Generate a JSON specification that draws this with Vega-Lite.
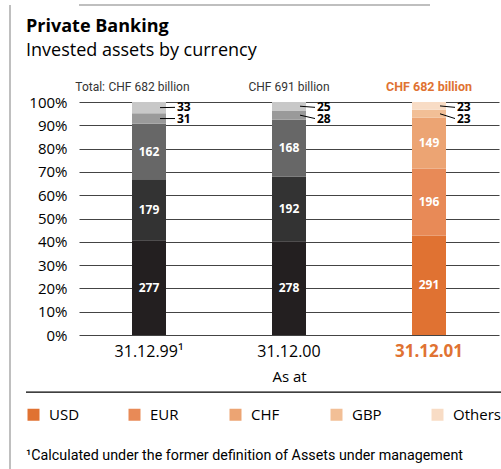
{
  "$schema": "https://vega.github.io/schema/vega-lite/v6.json",
  "width": 420,
  "height": 233,
  "autosize": {"type": "none"},
  "padding": {"left": 79, "top": 102, "right": 2, "bottom": 134},
  "background": "white",
  "title": {
    "text": "Private Banking",
    "subtitle": "Invested assets by currency",
    "anchor": "start",
    "frame": "group",
    "dx": -53,
    "offset": -56,
    "font": "Open Sans",
    "fontSize": 18,
    "fontWeight": "bold",
    "color": "#000000",
    "subtitleFont": "Open Sans",
    "subtitleFontSize": 18,
    "subtitleColor": "#000000",
    "subtitlePadding": 6
  },
  "data": {
    "values": [
      {"year": "31.12.99", "currency": "USD", "value": 277, "idx": 1},
      {"year": "31.12.99", "currency": "EUR", "value": 179, "idx": 2},
      {"year": "31.12.99", "currency": "CHF", "value": 162, "idx": 3},
      {"year": "31.12.99", "currency": "GBP", "value": 31, "idx": 4},
      {"year": "31.12.99", "currency": "Others", "value": 33, "idx": 5},
      {"year": "31.12.00", "currency": "USD", "value": 278, "idx": 1},
      {"year": "31.12.00", "currency": "EUR", "value": 192, "idx": 2},
      {"year": "31.12.00", "currency": "CHF", "value": 168, "idx": 3},
      {"year": "31.12.00", "currency": "GBP", "value": 28, "idx": 4},
      {"year": "31.12.00", "currency": "Others", "value": 25, "idx": 5},
      {"year": "31.12.01", "currency": "USD", "value": 291, "idx": 1},
      {"year": "31.12.01", "currency": "EUR", "value": 196, "idx": 2},
      {"year": "31.12.01", "currency": "CHF", "value": 149, "idx": 3},
      {"year": "31.12.01", "currency": "GBP", "value": 23, "idx": 4},
      {"year": "31.12.01", "currency": "Others", "value": 23, "idx": 5}
    ]
  },
  "transform": [
    {"joinaggregate": [{"op": "sum", "field": "value", "as": "total"}], "groupby": ["year"]},
    {"stack": "value", "groupby": ["year"], "sort": [{"field": "idx", "order": "ascending"}], "offset": "normalize", "as": ["y0", "y1"]},
    {"calculate": "(datum.y0 + datum.y1) / 2", "as": "mid"},
    {"calculate": "datum.currency == 'Others' ? 0.977 : 0.929", "as": "labelY"}
  ],
  "layer": [
    {
      "transform": [{"filter": "datum.year == '31.12.01'"}],
      "mark": {"type": "bar", "width": 34},
      "encoding": {
        "x": {
          "field": "year",
          "type": "nominal",
          "sort": ["31.12.99", "31.12.00", "31.12.01"],
          "scale": {"domain": ["31.12.99", "31.12.00", "31.12.01"], "paddingInner": 0, "paddingOuter": 0},
          "axis": {
            "title": "As at",
            "titleFont": "Open Sans",
            "titleFontSize": 15,
            "titleFontWeight": "normal",
            "titleColor": "#000000",
            "titlePadding": 10,
            "labelExpr": "datum.value == '31.12.99' ? '31.12.99¹' : datum.value",
            "labelFont": "Open Sans",
            "labelFontSize": {"condition": {"test": "datum.value == '31.12.01'", "value": 17}, "value": 16},
            "labelFontWeight": {"condition": {"test": "datum.value == '31.12.01'", "value": "bold"}, "value": "normal"},
            "labelColor": {"condition": {"test": "datum.value == '31.12.01'", "value": "#e07232"}, "value": "#000000"},
            "labelAngle": 0,
            "labelPadding": 8,
            "domain": false,
            "ticks": false,
            "grid": false
          }
        },
        "y": {
          "field": "y0",
          "type": "quantitative",
          "scale": {"domain": [0, 1]},
          "axis": {"values": [0, 0.1, 0.2, 0.3, 0.4, 0.5, 0.6, 0.7, 0.8, 0.9, 1]}
        },
        "y2": {"field": "y1"},
        "color": {
          "field": "currency",
          "type": "nominal",
          "scale": {
            "domain": ["USD", "EUR", "CHF", "GBP", "Others"],
            "range": ["#e07232", "#e88a57", "#eca473", "#f2bf96", "#f8dcc5"]
          },
          "legend": {
            "orient": "none",
            "legendX": -53,
            "legendY": 305,
            "direction": "horizontal",
            "columns": 5,
            "gridAlign": "all",
            "columnPadding": 30,
            "symbolType": "square",
            "symbolSize": 144,
            "symbolStrokeWidth": 0,
            "symbolOpacity": 1,
            "labelFont": "Open Sans",
            "labelFontSize": 15,
            "labelColor": "#000000",
            "labelOffset": 8,
            "title": "¹Calculated under the former definition of Assets under management",
            "titleOrient": "bottom",
            "titleAnchor": "start",
            "titlePadding": 26,
            "titleFont": "Roboto",
            "titleFontSize": 14.3,
            "titleFontWeight": "normal",
            "titleColor": "#000000",
            "titleLimit": 600
          }
        },
        "order": {"field": "idx"}
      }
    },
    {
      "transform": [{"filter": "datum.year != '31.12.01'"}],
      "mark": {"type": "bar", "width": 34},
      "encoding": {
        "x": {"field": "year", "type": "nominal", "sort": ["31.12.99", "31.12.00", "31.12.01"]},
        "y": {"field": "y0", "type": "quantitative", "axis": {"values": [0, 0.1, 0.2, 0.3, 0.4, 0.5, 0.6, 0.7, 0.8, 0.9, 1]}},
        "y2": {"field": "y1"},
        "color": {
          "field": "currency",
          "type": "nominal",
          "scale": {
            "domain": ["USD", "EUR", "CHF", "GBP", "Others"],
            "range": ["#231f20", "#333333", "#676767", "#9a9a9a", "#c8c8c8"]
          },
          "legend": null
        }
      }
    },
    {
      "transform": [{"filter": "datum.value > 100"}],
      "mark": {"type": "text", "font": "Open Sans", "fontSize": 12, "fontWeight": "bold", "color": "#ffffff", "baseline": "middle"},
      "encoding": {
        "x": {"field": "year", "type": "nominal", "sort": ["31.12.99", "31.12.00", "31.12.01"]},
        "y": {"field": "mid", "type": "quantitative", "axis": {"values": [0, 0.1, 0.2, 0.3, 0.4, 0.5, 0.6, 0.7, 0.8, 0.9, 1]}},
        "text": {"field": "value", "type": "quantitative"}
      }
    },
    {
      "transform": [{"filter": "datum.idx >= 4"}],
      "mark": {"type": "rule", "color": "#000000", "strokeWidth": 1, "xOffset": 11, "x2Offset": 26},
      "encoding": {
        "x": {"field": "year", "type": "nominal", "sort": ["31.12.99", "31.12.00", "31.12.01"]},
        "x2": {"field": "year"},
        "y": {"field": "mid", "type": "quantitative", "axis": {"values": [0, 0.1, 0.2, 0.3, 0.4, 0.5, 0.6, 0.7, 0.8, 0.9, 1]}},
        "y2": {"field": "labelY"}
      }
    },
    {
      "transform": [{"filter": "datum.idx >= 4"}],
      "mark": {"type": "text", "font": "Open Sans", "fontSize": 12, "fontWeight": "bold", "color": "#000000", "align": "left", "baseline": "middle", "dx": 28},
      "encoding": {
        "x": {"field": "year", "type": "nominal", "sort": ["31.12.99", "31.12.00", "31.12.01"]},
        "y": {"field": "labelY", "type": "quantitative", "axis": {"values": [0, 0.1, 0.2, 0.3, 0.4, 0.5, 0.6, 0.7, 0.8, 0.9, 1]}},
        "text": {"field": "value", "type": "quantitative"}
      }
    },
    {
      "transform": [{"filter": "datum.idx == 1 && datum.year != '31.12.01'"}, {"calculate": "'CHF ' + datum.total + ' billion'", "as": "lbl"}],
      "mark": {"type": "text", "font": "Roboto", "fontSize": 12, "color": "#333333", "baseline": "bottom", "dy": -8},
      "encoding": {
        "x": {"field": "year", "type": "nominal", "sort": ["31.12.99", "31.12.00", "31.12.01"]},
        "y": {"datum": 1, "axis": {"values": [0, 0.1, 0.2, 0.3, 0.4, 0.5, 0.6, 0.7, 0.8, 0.9, 1]}},
        "text": {"field": "lbl"}
      }
    },
    {
      "transform": [{"filter": "datum.idx == 1 && datum.year == '31.12.99'"}],
      "mark": {"type": "text", "font": "Roboto", "fontSize": 12, "color": "#333333", "baseline": "bottom", "align": "right", "dy": -8, "dx": -44},
      "encoding": {
        "x": {"field": "year", "type": "nominal", "sort": ["31.12.99", "31.12.00", "31.12.01"]},
        "y": {"datum": 1, "axis": {"values": [0, 0.1, 0.2, 0.3, 0.4, 0.5, 0.6, 0.7, 0.8, 0.9, 1]}},
        "text": {"value": "Total:"}
      }
    },
    {
      "transform": [{"filter": "datum.idx == 1 && datum.year == '31.12.01'"}, {"calculate": "'CHF ' + datum.total + ' billion'", "as": "lbl"}],
      "mark": {"type": "text", "font": "Roboto", "fontSize": 12.5, "fontWeight": "bold", "color": "#e07232", "baseline": "bottom", "dy": -8},
      "encoding": {
        "x": {"field": "year", "type": "nominal", "sort": ["31.12.99", "31.12.00", "31.12.01"]},
        "y": {"datum": 1, "axis": {"values": [0, 0.1, 0.2, 0.3, 0.4, 0.5, 0.6, 0.7, 0.8, 0.9, 1]}},
        "text": {"field": "lbl"}
      }
    },
    {
      "transform": [{"filter": "datum.idx == 1 && datum.year == '31.12.99'"}],
      "mark": {"type": "rule", "color": "#aaaaaa", "strokeWidth": 1.5, "xOffset": -69, "x2Offset": 2},
      "encoding": {"y": {"datum": 1.4163, "type": "quantitative", "axis": {"values": [0, 0.1, 0.2, 0.3, 0.4, 0.5, 0.6, 0.7, 0.8, 0.9, 1]}}}
    },
    {
      "transform": [{"filter": "datum.idx == 1 && datum.year == '31.12.99'"}],
      "mark": {"type": "rule", "color": "#aaaaaa", "strokeWidth": 1.5, "xOffset": -139},
      "encoding": {
        "x": {"datum": "31.12.99"},
        "y": {"datum": 1.4163, "type": "quantitative", "axis": {"values": [0, 0.1, 0.2, 0.3, 0.4, 0.5, 0.6, 0.7, 0.8, 0.9, 1]}},
        "y2": {"datum": -0.6}
      }
    },
    {
      "transform": [{"filter": "datum.idx == 1 && datum.year == '31.12.99'"}],
      "mark": {"type": "rule", "color": "#000000", "strokeWidth": 1.2, "xOffset": -123, "x2Offset": 72},
      "encoding": {
        "x": {"datum": "31.12.99"},
        "x2": {"datum": "31.12.01"},
        "y": {"datum": -0.245, "type": "quantitative", "axis": {"values": [0, 0.1, 0.2, 0.3, 0.4, 0.5, 0.6, 0.7, 0.8, 0.9, 1]}}
      }
    }
  ],
  "resolve": {"scale": {"color": "independent"}},
  "config": {
    "view": {"stroke": null},
    "axisY": {
      "title": null,
      "format": ".0%",
      "labelOverlap": false,
      "grid": true,
      "gridColor": "#444444",
      "gridWidth": 1,
      "domain": false,
      "ticks": false,
      "labelFont": "Open Sans",
      "labelFontSize": 15,
      "labelColor": "#000000",
      "labelPadding": 12
    }
  }
}
